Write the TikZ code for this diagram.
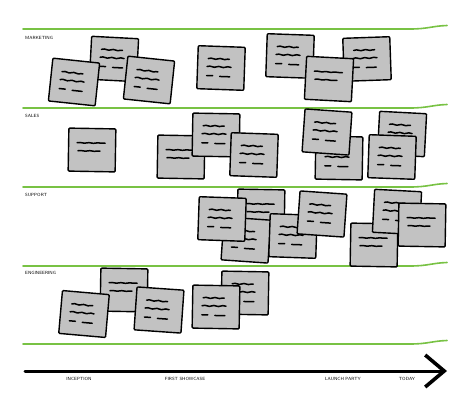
\documentclass[tikz,border=0pt]{standalone}
\usetikzlibrary{arrows.meta,decorations.pathmorphing,positioning}

\definecolor{lanegreen}{HTML}{78C244}
\definecolor{notegray}{HTML}{C2C2C2}

\begin{document}
\begin{tikzpicture}[
    x = 1pt, y = -1pt, % pixel grid, y runs downwards
    line cap = round,
    lane/.style = {draw = lanegreen, line width = 1.6pt},
    rowlabel/.style = {font = \sffamily\fontsize{4.5}{5}\selectfont, anchor = west, inner sep = 0pt},
    milestone/.style = {font = \sffamily\fontsize{4.5}{5}\selectfont, inner sep = 0pt},
    timeline/.style = {line width = 3pt, -{Straight Barb[length = 19pt, width = 32pt, line width = 3.6pt]}}
    ]

    \tikzset{
    sticky/.style = {
    draw = black,
    line width = 1.4pt,
    fill = notegray,
    rounded corners = 1pt,
    minimum width = 47pt,
    minimum height = 43pt,
    inner sep = 0pt,
    transform shape
    },
    scribble/.style = {line width = 1.5pt, decorate,
    decoration = {snake, amplitude = 0.5pt, segment length = 9pt}},
    ink/.style = {line width = 1.5pt},
    note3/.pic = {
    \node[sticky] (-box) at (0,0) {};
    \draw[scribble] (-13,-9) -- (8,-9);
    \draw[scribble] (-14,-1) -- (10,-1);
    \draw[ink] (-14,8) -- (-8,8);
    \draw[ink] (-1,8.5) -- (9,8.5);
    },
    note2/.pic = {
    \node[sticky] (-box) at (0,0) {};
    \draw[scribble, decoration = {amplitude = 0.3pt}] (-15,-7) -- (13,-7);
    \draw[scribble, decoration = {amplitude = 0.3pt}] (-14,1) -- (8,1);
    }
    }

    \useasboundingbox[fill = white] (0,0) rectangle (474,418);

    % swim lanes
    \foreach \y in {29,108,187,266,344}
    \draw[lane] (23,\y) -- (410,\y) .. controls (428,\y) and (432,\y-3) .. (447,\y-3.5);

    \node[rowlabel] (marketing) at (25,38) {MARKETING};
    \node[rowlabel] (sales) at (25,116) {SALES};
    \node[rowlabel] (support) at (25,195) {SUPPORT};
    \node[rowlabel] (engineering) at (25,273) {ENGINEERING};

    % marketing
    \pic[rotate = -3] (m2) at (114,59) {note3};
    \pic[rotate = -6] (m1) at (74,82) {note3};
    \pic[rotate = -6] (m3) at (149,80) {note3};
    \pic[rotate = -2] (m4) at (221,68) {note3};
    \pic[rotate = -2] (m5) at (290,56) {note3};
    \pic[rotate = 2] (m7) at (367,59) {note3};
    \pic[rotate = -3] (m6) at (329,79) {note2};

    % sales
    \pic[rotate = -1] (s1) at (92,150) {note2};
    \pic[rotate = -1] (s2) at (181,157) {note2};
    \pic[rotate = -1] (s3) at (216,135) {note3};
    \pic[rotate = -2] (s4) at (254,155) {note3};
    \pic[rotate = -1] (s6) at (339,158) {note3};
    \pic[rotate = -4] (s5) at (327,132) {note3};
    \pic[rotate = -3] (s7) at (402,134) {note3};
    \pic[rotate = -2] (s8) at (392,157) {note3};

    % support
    \pic[rotate = -1] (p2) at (261,211) {note2};
    \pic[rotate = -4] (p3) at (246,240) {note3};
    \pic[rotate = -2] (p1) at (222,219) {note3};
    \pic[rotate = -2] (p4) at (293,236) {note3};
    \pic[rotate = -4] (p5) at (322,214) {note3};
    \pic[rotate = -1] (p7) at (374,245) {note2};
    \pic[rotate = -3] (p6) at (397,212) {note3};
    \pic[rotate = -1] (p8) at (422,225) {note2};

    % engineering
    \pic[rotate = -1] (e2) at (124,290) {note2};
    \pic[rotate = -5] (e1) at (84,314) {note3};
    \pic[rotate = -4] (e3) at (159,310) {note3};
    \pic[rotate = -1] (e4) at (245,293) {note3};
    \pic[rotate = -1] (e5) at (216,307) {note3};

    % time axis
    \coordinate (start) at (25,371);
    \coordinate (today) at (447,371);
    \draw[timeline] (start) -- (today);

    \node[milestone] (inception) at (79,379) {INCEPTION};
    \node[milestone] (showcase) at (185,379) {FIRST SHOWCASE};
    \node[milestone] (launch) at (343,379) {LAUNCH PARTY};
    \node[milestone] (now) at (407,379) {TODAY};
\end{tikzpicture}
\end{document}
